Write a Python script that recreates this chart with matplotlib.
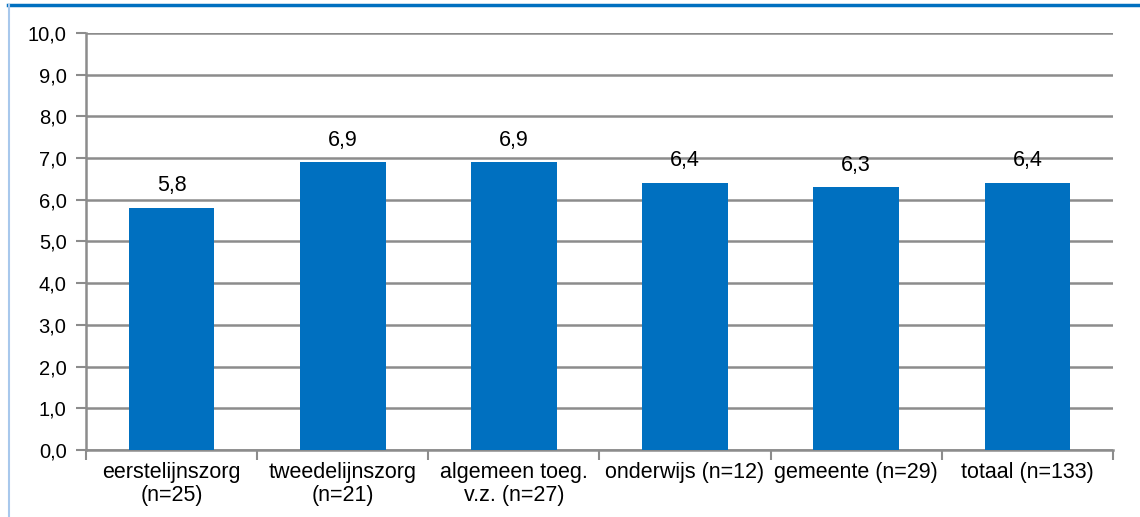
import matplotlib.pyplot as plt
from matplotlib.lines import Line2D

categories = ["eerstelijnszorg\n(n=25)", "tweedelijnszorg\n(n=21)", "algemeen toeg.\nv.z. (n=27)",
              "onderwijs (n=12)", "gemeente (n=29)", "totaal (n=133)"]
values = [5.8, 6.9, 6.9, 6.4, 6.3, 6.4]
yticks = [0, 1, 2, 3, 4, 5, 6, 7, 8, 9, 10]

plt.rcParams["font.family"] = ["Liberation Sans", "DejaVu Sans"]

fig = plt.figure(figsize=(11.4, 5.17), dpi=100)
ax = fig.add_axes([0.0754, 0.1296, 0.9009, 0.8066])

bar_color = "#0070C0"
grid_color = "#8c8c8c"
fs = 15.5

x = list(range(len(categories)))
ax.bar(x, values, width=0.5, color=bar_color, zorder=3)

# value labels above bars
for xi, v in zip(x, values):
    ax.text(xi, v + 0.28, f"{v:.1f}".replace(".", ","), ha="center", va="bottom", fontsize=fs)

ax.set_ylim(0, 10)
ax.set_xlim(-0.5, len(categories) - 0.5)
ax.set_yticks(yticks)
ax.set_yticklabels([f"{t:.1f}".replace(".", ",") for t in yticks], fontsize=14.5)
ax.yaxis.grid(True, color=grid_color, linewidth=1.8, zorder=0)
ax.set_axisbelow(True)

ax.set_xticks(x)
ax.set_xticklabels(categories, fontsize=fs, linespacing=1.1)
ax.tick_params(axis="x", which="major", length=0, pad=9)
ax.set_xticks([i - 0.5 for i in range(len(categories) + 1)], minor=True)
ax.tick_params(axis="x", which="minor", length=7, color=grid_color, width=1.5)
ax.tick_params(axis="y", length=7, color=grid_color, width=1.5, pad=7)

for s in ["top", "right"]:
    ax.spines[s].set_visible(False)
for s in ["left", "bottom"]:
    ax.spines[s].set_color(grid_color)
    ax.spines[s].set_linewidth(1.8)

# frame of the surrounding chart area
fig.add_artist(Line2D([0.007, 1.0], [0.99, 0.99], transform=fig.transFigure, color="#0070C0", linewidth=2.5))
fig.add_artist(Line2D([0.008, 0.008], [0.0, 0.99], transform=fig.transFigure, color="#a8c8ec", linewidth=1.5))

fig.savefig("out.png", dpi=100)
